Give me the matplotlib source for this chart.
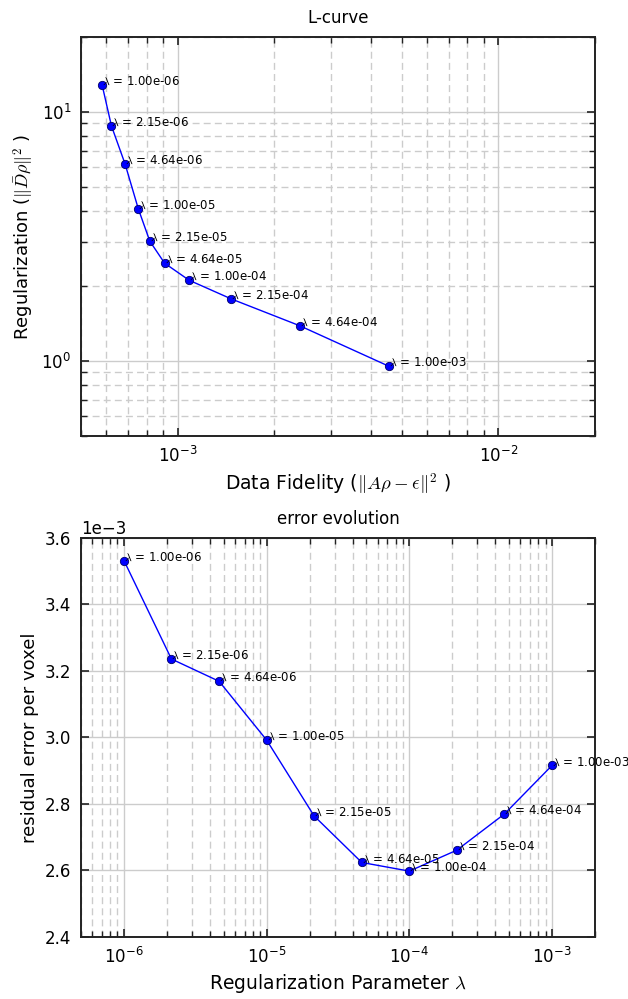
import numpy as np
import matplotlib
matplotlib.use("Agg")
import matplotlib.pyplot as plt
from matplotlib.ticker import NullFormatter


# ======================
# data
# ======================
lambdas = [1.00e-06, 2.15e-06, 4.64e-06, 1.00e-05, 2.15e-05,
           4.64e-05, 1.00e-04, 2.15e-04, 4.64e-04, 1.00e-03]

data_fidelity = [5.82e-4, 6.22e-4, 6.86e-4, 7.54e-4, 8.19e-4,
                 9.11e-4, 1.086e-3, 1.47e-3, 2.40e-3, 4.56e-3]

regularization = [12.8, 8.79, 6.18, 4.09, 3.03,
                  2.47, 2.11, 1.775, 1.386, 0.952]

residual_error = [3.532e-3, 3.236e-3, 3.169e-3, 2.992e-3, 2.764e-3,
                  2.624e-3, 2.598e-3, 2.661e-3, 2.770e-3, 2.916e-3]

labels = [r"$\lambda$ = %.2e" % lam for lam in lambdas]


# ======================
# style
# ======================
plt.rcParams["font.family"] = "DejaVu Sans"
plt.rcParams["mathtext.fontset"] = "cm"


def style_axes(ax):
    for side in ["top", "bottom", "left", "right"]:
        ax.spines[side].set_color("#222222")
        ax.spines[side].set_linewidth(1.4)
    ax.set_axisbelow(True)
    ax.grid(which="major", color="#cccccc", linestyle="-", linewidth=1)
    ax.grid(which="minor", color="#cccccc", linestyle=(0, (5, 3)), linewidth=1)
    ax.tick_params(which="both", direction="in", top=True, right=True,
                   labelsize=12, color="#222222")
    ax.tick_params(which="major", length=6, width=1.2, pad=7)
    ax.tick_params(which="minor", length=4, width=1.0)


fig = plt.figure(figsize=(6.28, 9.99), dpi=100)


# ======================
# L-curve
# ======================
ax1 = fig.add_axes([0.129, 0.5636, 0.8185, 0.3994])

ax1.plot(data_fidelity, regularization, "o-", color="blue",
         linewidth=1, markersize=6, markeredgecolor="#000066",
         markeredgewidth=0.6)

for xv, yv, txt in zip(data_fidelity, regularization, labels):
    ax1.annotate(txt, (xv, yv), fontsize=8.5)

ax1.set_xscale("log")
ax1.set_yscale("log")
ax1.set_xlim(5e-4, 2e-2)
ax1.set_ylim(0.5, 20)
ax1.xaxis.set_minor_formatter(NullFormatter())
ax1.yaxis.set_minor_formatter(NullFormatter())

ax1.set_title("L-curve", fontsize=12, pad=10)
ax1.set_xlabel(r"Data Fidelity ($\|A\rho - \epsilon\|^2$ )", fontsize=13.5)
ax1.set_ylabel(r"Regularization ($\|\bar{D}\rho\|^2$ )", fontsize=13)
style_axes(ax1)


# ======================
# error evolution
# ======================
ax2 = fig.add_axes([0.129, 0.0621, 0.8185, 0.3994])

ax2.plot(lambdas, residual_error, "o-", color="blue",
         linewidth=1, markersize=6, markeredgecolor="#000066",
         markeredgewidth=0.6)

for xv, yv, txt in zip(lambdas, residual_error, labels):
    ax2.annotate(txt, (xv, yv), fontsize=8.5, annotation_clip=False)

ax2.set_xscale("log")
ax2.set_xlim(5e-7, 2e-3)
ax2.set_ylim(2.4e-3, 3.6e-3)
ax2.set_yticks([2.4e-3, 2.6e-3, 2.8e-3, 3.0e-3, 3.2e-3, 3.4e-3, 3.6e-3])
ax2.ticklabel_format(axis="y", style="sci", scilimits=(0, 0))
ax2.yaxis.get_offset_text().set_fontsize(12)
ax2.xaxis.set_minor_formatter(NullFormatter())

ax2.set_title("error evolution", fontsize=12, pad=10)
ax2.set_xlabel(r"Regularization Parameter $\lambda$", fontsize=13.5)
ax2.set_ylabel("residual error per voxel", fontsize=13)
style_axes(ax2)


plt.savefig("out.png", dpi=100)
plt.close()
